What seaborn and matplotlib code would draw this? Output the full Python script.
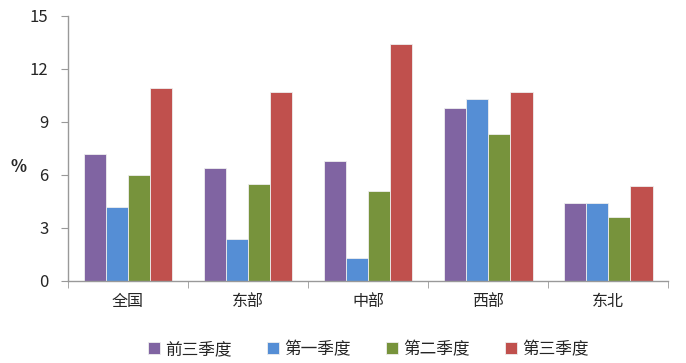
import seaborn as sns
import numpy as np
import pandas as pd
import matplotlib.pyplot as plt
from matplotlib.ticker import FixedLocator

# data
regions = ['全国', '东部', '中部', '西部', '东北']
series = ['前三季度', '第一季度', '第二季度', '第三季度']
q1_3 = [7.2, 6.4, 6.8, 9.8, 4.4]
q1 = [4.2, 2.4, 1.3, 10.3, 4.4]
q2 = [6.0, 5.5, 5.1, 8.3, 3.6]
q3 = [10.9, 10.7, 13.4, 10.7, 5.4]
colors = ['#8064A2', '#558ED5', '#77933C', '#C0504D']

rows = []
for name, vals in zip(series, [q1_3, q1, q2, q3]):
    for r, v in zip(regions, vals):
        rows.append({'region': r, 'series': name, 'value': v})
df = pd.DataFrame(rows)

sns.set_style('white')
plt.rcParams['font.family'] = ['Noto Sans CJK SC', 'DejaVu Sans']

fig = plt.figure(figsize=(6.86, 3.63), dpi=100)
ax = fig.add_axes([0.099, 0.226, 0.875, 0.730])

sns.barplot(data=df, x='region', y='value', hue='series', palette=colors,
            saturation=1, width=0.74, edgecolor='#eeeeee', linewidth=0.6,
            ax=ax, legend=True)

ax.set_ylim(0, 15)
ax.set_xlim(-0.5, len(regions) - 0.5)
ax.set_yticks([0, 3, 6, 9, 12, 15])
ax.tick_params(axis='y', labelsize=12, length=5, color='#999999', direction='out', left=True, pad=9)
ax.tick_params(axis='x', which='major', length=0, labelsize=11.5, pad=9)
ax.xaxis.set_minor_locator(FixedLocator(np.arange(-0.5, len(regions), 1.0)))
ax.tick_params(axis='x', which='minor', length=5, color='#999999', direction='out', bottom=True)

for s in ['top', 'right']:
    ax.spines[s].set_visible(False)
for s in ['left', 'bottom']:
    ax.spines[s].set_color('#999999')
    ax.spines[s].set_linewidth(1)

ax.set_xlabel('')
ax.set_ylabel('%', rotation=0, fontsize=12, fontweight='bold', va='center', ha='center')
ax.yaxis.set_label_coords(-0.083, 0.43)

handles, labels = ax.get_legend_handles_labels()
ax.legend_.remove()
fig.legend(handles, labels, loc='center', bbox_to_anchor=(0.537, 0.037), ncol=4,
           frameon=False, fontsize=12, handlelength=0.7, handleheight=0.7,
           handletextpad=0.3, columnspacing=2.15)

fig.savefig('out.png', dpi=100)
